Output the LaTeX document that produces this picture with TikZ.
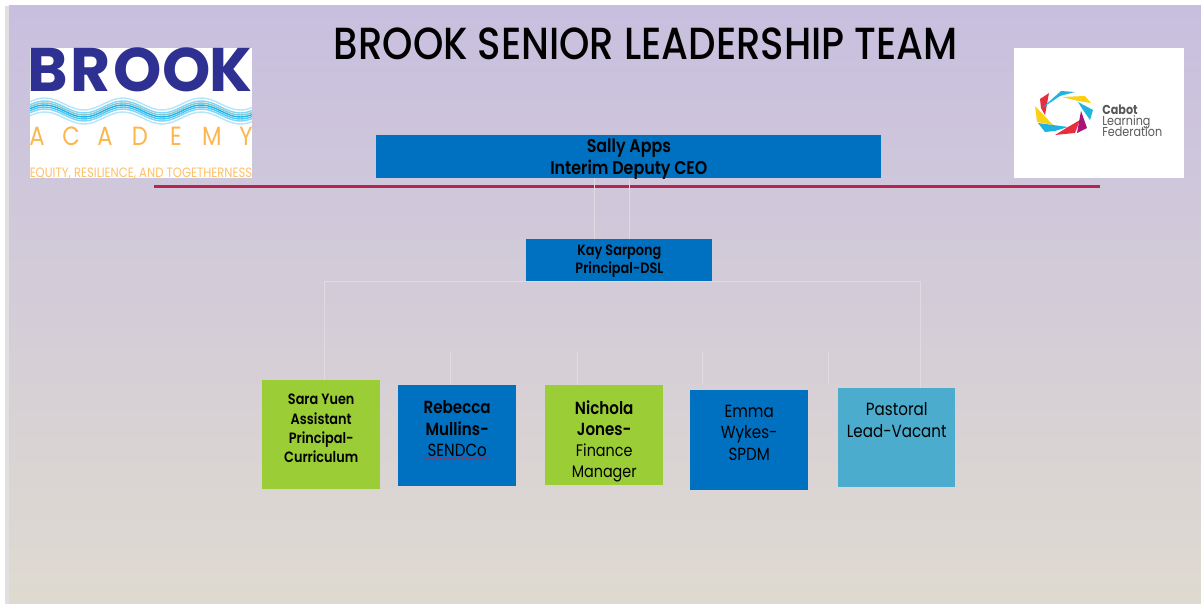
\documentclass[tikz,border=0pt]{standalone}
\usepackage{fontspec}
\setmainfont{Poppins}
\usetikzlibrary{positioning,calc,decorations.pathmorphing}
\definecolor{lavender}{RGB}{200,191,223}
\definecolor{midlav}{RGB}{208,202,221}
\definecolor{sand}{RGB}{223,218,208}
\definecolor{orgblue}{RGB}{0,112,192}
\definecolor{orggreen}{RGB}{155,205,55}
\definecolor{orgteal}{RGB}{75,172,206}
\definecolor{redline}{RGB}{181,37,79}
\definecolor{brookblue}{RGB}{46,49,146}
\definecolor{brookorange}{RGB}{253,182,78}
\definecolor{linkgrey}{RGB}{222,220,226}
\definecolor{cabotred}{RGB}{232,45,60}
\definecolor{cabotcyan}{RGB}{30,180,222}
\definecolor{cabotyellow}{RGB}{252,208,20}
\definecolor{cabotpurple}{RGB}{170,20,120}
\newfontfamily\orgfont[FakeStretch=0.86]{Poppins}
\newfontfamily\titlefont[FakeStretch=0.86]{Poppins Medium}
\newfontfamily\orgbold[FakeStretch=0.86]{Poppins SemiBold}
\newfontfamily\brookfont{Poppins Bold}
\newcommand{\toptext}[4]{\parbox[c][#2][t]{#1}{\centering\vspace*{#3}#4}}
\lineskiplimit=-10pt
\begin{document}
\begin{tikzpicture}[x=0.02cm,y=-0.02cm]
	\tikzstyle{org box} = [inner sep=0pt, text=black, anchor=north west]
	\tikzstyle{org link} = [draw=linkgrey, line width=0.4pt]
	\tikzstyle{brook letter} = [inner sep=0pt, text=brookblue, font=\brookfont\fontsize{35}{35}\selectfont]
	\tikzstyle{academy letter} = [inner sep=0pt, text=brookorange, font=\orgfont\fontsize{15}{15}\selectfont]

	\useasboundingbox (0,0) rectangle (1201,604);
	\fill[white] (0,0) rectangle (1201,604);
	\fill[black!12] (5,6) rectangle (9,604);
	\shade[top color=lavender, middle color=midlav, bottom color=sand] (9,6) rectangle (1201,604);

	\node[inner sep=0pt, font=\titlefont\fontsize{25.6}{26}\selectfont] (title) at (646,44) {BROOK SENIOR LEADERSHIP TEAM};

	\fill[white] (30,48) rectangle (252,178);
	\foreach \x/\l in {48/B,91/R,138/O,187/O,231/K}
		\node[brook letter] (brook\l\x) at (\x,70) {\l};
	\foreach \dy/\c in {-6/cyan!30,-3/cyan!50,-1/teal!45,1/cyan!90,3/cyan!70,5/cyan!50,8/cyan!30}
		\draw[\c, line width=0.8pt] plot[domain=30:252, samples=60, smooth] (\x,{110+\dy-6*cos((\x-123)*4.6)});
	\foreach \x/\l in {37/A,71/C,105/A,140/D,176/E,212/M,246/Y}
		\node[academy letter] (academy\x) at (\x,136) {\l};
	\node[inner sep=0pt, text=brookorange!85, font=\orgfont\fontsize{7.7}{7.7}\selectfont] (motto) at (141,174) {EQUITY, RESILIENCE, AND TOGETHERNESS};

	\fill[white] (1014,48) rectangle (1184,178);
	\fill[cabotyellow] (1035,106) -- (1053,125) -- (1037,122) -- cycle;
	\fill[cabotred] (1040,99) -- (1049,93) -- (1045,115) -- (1041,108) -- cycle;
	\fill[cabotcyan] (1042,108) -- (1061,91) -- (1075,92) -- (1060,96) -- cycle;
	\fill[cabotyellow] (1062,97) -- (1085,96) -- (1091,103) -- (1078,101) -- cycle;
	\fill[cabotcyan] (1078,102) -- (1093,110) -- (1090,120) -- (1083,110) -- cycle;
	\fill[cabotred] (1080,120) -- (1075,133) -- (1055,135) -- (1068,127) -- cycle;
	\fill[cabotpurple] (1081,111) -- (1087,128) -- (1077,133) -- cycle;
	\fill[cabotcyan] (1038,123) -- (1068,127) -- (1055,131) -- (1045,132) -- cycle;
	\node[inner sep=0pt, text=black!65, align=left, anchor=west, font=\orgfont\fontsize{7.4}{6.4}\selectfont] (cabot) at (1102,121) {\textbf{Cabot}\\Learning\\Federation};

	\draw[redline, line width=2pt] (154,186.5) -- (1100,186.5);

	\node[org box, fill=orgblue, minimum width=505*0.02cm, minimum height=43*0.02cm] (sally) at (376,135) {\toptext{285pt}{24pt}{1.7pt}{\orgbold\fontsize{10.5}{12.3}\selectfont Sally Apps\\Interim Deputy CEO}};
	\node[org box, fill=orgblue, minimum width=186*0.02cm, minimum height=43*0.02cm] (kay) at (526,239) {\toptext{105pt}{24pt}{2.7pt}{\orgbold\fontsize{8.5}{10.5}\selectfont Kay Sarpong\\Principal-DSL}};

	\node[org box, fill=orggreen] (sara) at (262,380) {\toptext{67pt}{62pt}{8pt}{\orgbold\fontsize{8.5}{11}\selectfont Sara Yuen\\Assistant\\Principal-\\Curriculum}};
	\node[org box, fill=orgblue] (rebecca) at (398,385) {\toptext{67pt}{57.5pt}{8.5pt}{\orgbold\fontsize{10}{12.4}\selectfont Rebecca\\Mullins-\\\orgfont SENDCo}};
	\node[org box, fill=orggreen] (nichola) at (545,385) {\toptext{67pt}{56.5pt}{8.5pt}{\orgbold\fontsize{10}{12.1}\selectfont Nichola\\Jones-\\\orgfont\fontsize{9.5}{12.1}\selectfont Finance\\Manager}};
	\node[org box, fill=orgblue] (emma) at (690,390) {\toptext{67pt}{56.5pt}{8.5pt}{\orgfont\fontsize{10}{12.1}\selectfont Emma\\Wykes-\\SPDM}};
	\node[org box, fill=orgteal] (pastoral) at (838,388) {\toptext{66.5pt}{56pt}{8.3pt}{\orgfont\fontsize{10}{12.4}\selectfont Pastoral\\Lead-Vacant}};

	\draw[redline, line width=0.4pt, decorate, decoration={snake, amplitude=0.5pt, segment length=2.5pt}] (424,458) -- (490,458);

	\coordinate (linkA) at (594,178);
	\coordinate (treeL) at (324,281);
	\coordinate (treeR) at (920,281);
	\draw[org link] (linkA) -- (linkA |- kay.north);
	\draw[org link] (sally.south) -- (sally.south |- kay.north);
	\draw[org link] (treeL) -- (treeR);
	\draw[org link] (treeL) -- (treeL |- sara.north);
	\draw[org link] (treeR) -- (treeR |- pastoral.north);
	\foreach \x in {450,577,702,828}
	{
		\coordinate (stubT\x) at (\x,352);
		\coordinate (stubB\x) at (\x,385);
		\draw[org link] (stubT\x) -- (stubB\x);
	}
\end{tikzpicture}
\end{document}
